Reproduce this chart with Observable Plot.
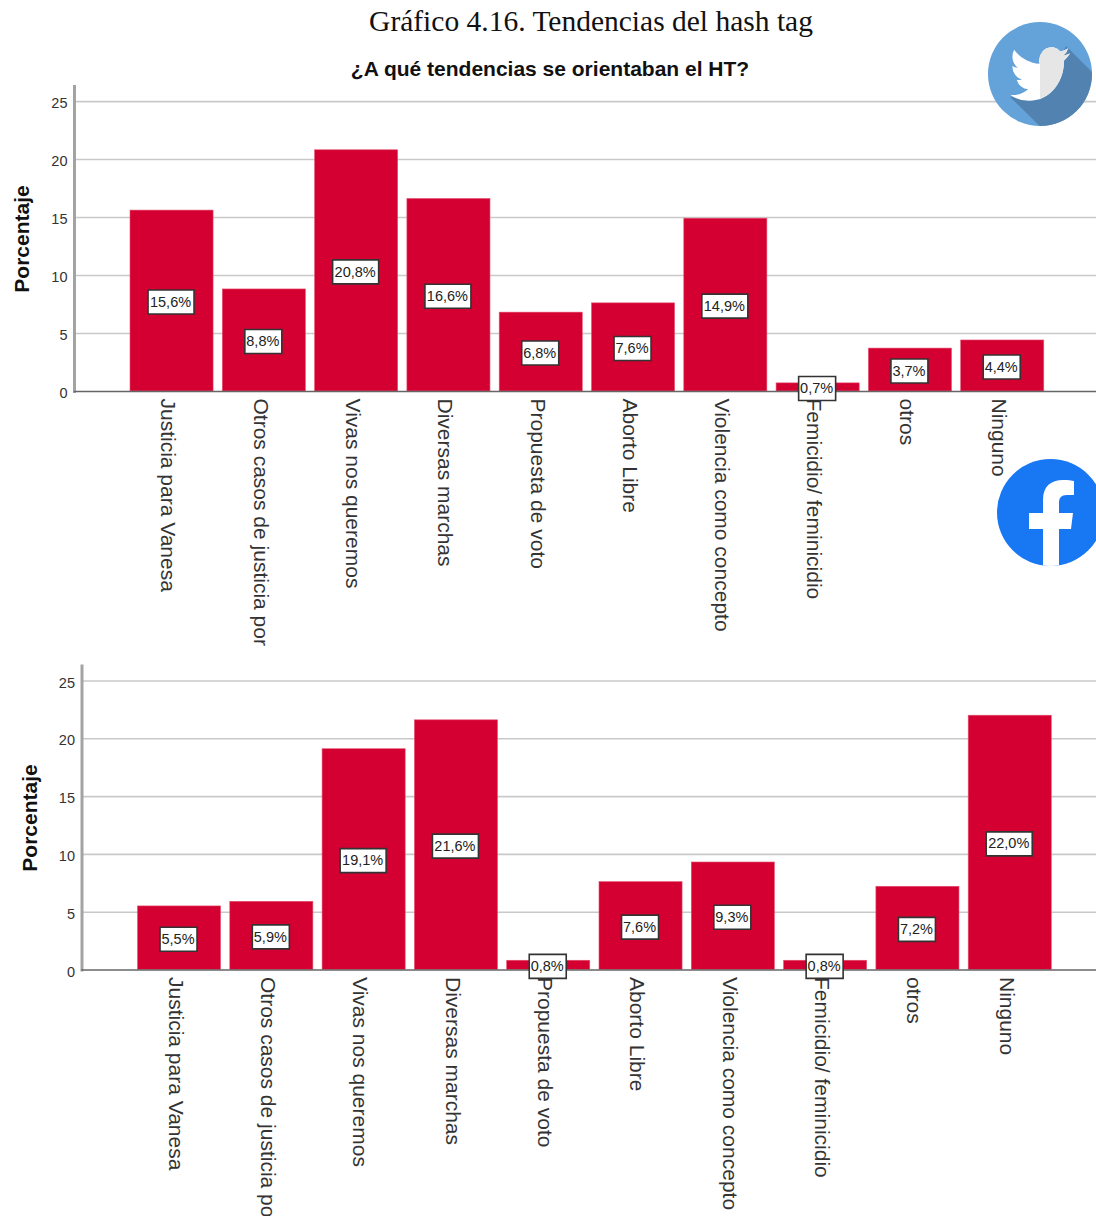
<!DOCTYPE html>
<html lang="es">
<head>
<meta charset="utf-8">
<title>Tendencias del hash tag</title>
<script src="https://cdn.jsdelivr.net/npm/d3@7"></script>
<script src="https://cdn.jsdelivr.net/npm/@observablehq/plot@0.6"></script>
<style>
  html, body { margin: 0; background: #fff; }
  #page { position: relative; width: 1096px; height: 1216px; overflow: hidden; }
  #page > svg, #page > div { position: absolute; }
  #heading { left: 291px; top: 5px; width: 600px; text-align: center; white-space: nowrap;
             font: 29.5px "Liberation Serif", serif; color: #111; }
  #question { left: 250px; top: 57px; width: 600px; text-align: center; white-space: nowrap;
              font: bold 21px "Liberation Sans", sans-serif; color: #111; }
</style>
</head>
<body>
<div id="page">
  <div id="heading">Gráfico 4.16. Tendencias del hash tag</div>
  <div id="question">¿A qué tendencias se orientaban el HT?</div>
</div>
<script>
// Categories shared by both panels
const categories = [
  "Justicia para Vanesa", "Otros casos de justicia por", "Vivas nos queremos",
  "Diversas marchas", "Propuesta de voto", "Aborto Libre",
  "Violencia como concepto", "Femicidio/ feminicidio", "otros", "Ninguno"
];
// Percentages per panel: Twitter above, Facebook below
const twitterValues = [15.6, 8.8, 20.8, 16.6, 6.8, 7.6, 14.9, 0.7, 3.7, 4.4];
const facebookValues = [5.5, 5.9, 19.1, 21.6, 0.8, 7.6, 9.3, 0.8, 7.2, 22.0];
const yTicks = [0, 5, 10, 15, 20, 25];

const sans = '"Liberation Sans", Arial, sans-serif';
const fmt = v => v.toFixed(1).replace(".", ",") + "%";

// Rectangular dot symbol for the value badges
const box = (w, h) => ({
  draw(ctx) { ctx.rect(-w / 2, -h / 2, w, h); }
});

function panel({values, top, height, axisX, axisTop, axisBottom, firstBar}) {
  const rows = categories.map((c, i) => ({c, v: values[i], label: fmt(values[i])}));
  const step = 92.3;
  const x0 = firstBar - step * 0.1;
  const badge = (test, w) => Plot.dot(rows.filter(test), {
    x: "c", y: d => d.v / 2, symbol: box(w, 24), r: 1, dx: -1, dy: 1,
    fill: "#fff", stroke: "#333", strokeWidth: 1.6
  });
  return Plot.plot({
    width: 1096, height,
    marginLeft: axisX, marginRight: 0,
    marginTop: axisTop - top, marginBottom: top + height - axisBottom,
    style: {fontFamily: sans, background: "transparent", overflow: "hidden"},
    x: {type: "band", domain: categories, range: [x0, x0 + step * 10.1], padding: 0.1, round: false, axis: null},
    y: {domain: [0, 26.3], range: [axisBottom - top, axisTop - top], axis: null},
    marks: [
      Plot.ruleY(yTicks.slice(1), {stroke: "#c9c9c9", strokeWidth: 1.6}),
      Plot.barY(rows, {x: "c", y: "v", fill: "#d50032", stroke: "#e4506f", strokeWidth: 0.6}),
      Plot.frame({anchor: "left", stroke: "#a3a3a3", strokeWidth: 3}),
      Plot.frame({anchor: "bottom", stroke: "#666", strokeWidth: 1.6}),
      badge(d => d.label.length > 4, 46),
      badge(d => d.label.length <= 4, 37),
      Plot.text(rows, {x: "c", y: d => d.v / 2, dx: -1.5, dy: 1, text: "label", fontSize: 14.5, fill: "#222"}),
      Plot.axisY({ticks: yTicks, tickSize: 0, tickPadding: 7, dy: 2, fontSize: 14.5, fill: "#333", label: null}),
      Plot.text(categories, {
        x: d => d, frameAnchor: "bottom", dy: 7, dx: -4,
        rotate: 90, textAnchor: "start", lineAnchor: "middle",
        fontSize: 21, fill: "#333"
      }),
      Plot.text(["Porcentaje"], {
        frameAnchor: "left", dx: -52, rotate: -90, textAnchor: "middle",
        fontWeight: "bold", fontSize: 21, fill: "#111"
      })
    ]
  });
}

const page = document.getElementById("page");

const twitter = panel({values: twitterValues, top: 0, height: 650, axisX: 74, axisTop: 86, axisBottom: 391, firstBar: 130});
const facebook = panel({values: facebookValues, top: 640, height: 576, axisX: 81.5, axisTop: 665.5, axisBottom: 969.5, firstBar: 137.5});
for (const [svg, top] of [[twitter, 0], [facebook, 640]]) {
  svg.style.left = "0px";
  svg.style.top = top + "px";
  svg.style.overflow = "hidden";
  page.append(svg);
}

// Network badges in the upper right corner of the panels
const badges = document.createElementNS("http://www.w3.org/2000/svg", "svg");
badges.setAttribute("width", 1096);
badges.setAttribute("height", 1216);
badges.style.left = "0px";
badges.style.top = "0px";
badges.innerHTML = `
  <defs>
    <clipPath id="tw"><circle cx="1040" cy="74" r="52"/></clipPath>
    <clipPath id="twRight"><rect x="1040" y="30" width="50" height="90"/></clipPath>
    <clipPath id="fb"><circle cx="1050.5" cy="512.5" r="53.5"/></clipPath>
    <path id="bird" transform="translate(1010 41) scale(2.5 2.75)"
      d="M23.953 4.57a10 10 0 01-2.825.775 4.958 4.958 0 002.163-2.723c-.951.555-2.005.959-3.127 1.184a4.92 4.92 0 00-8.384 4.482C7.69 8.095 4.067 6.13 1.64 3.162a4.822 4.822 0 00-.666 2.475c0 1.71.87 3.213 2.188 4.096a4.904 4.904 0 01-2.228-.616v.06a4.923 4.923 0 003.946 4.827 4.996 4.996 0 01-2.212.085 4.936 4.936 0 004.604 3.417 9.867 9.867 0 01-6.102 2.105c-.39 0-.779-.023-1.17-.067a13.995 13.995 0 007.557 2.209c9.053 0 13.998-7.496 13.998-13.985 0-.21 0-.42-.015-.63A9.935 9.935 0 0024 4.59z"/>
  </defs>
  <circle cx="1040" cy="74" r="52" fill="#64a2da"/>
  <polygon points="1066,46 1110,90 1110,140 1054,140 1010,97 1040,100" fill="#5283b0" clip-path="url(#tw)"/>
  <use href="#bird" fill="#fff"/>
  <g clip-path="url(#twRight)"><use href="#bird" fill="#e6e6e6"/></g>
  <circle cx="1050.5" cy="512.5" r="53.5" fill="#1877f2"/>
  <path clip-path="url(#fb)" fill="#fff"
    d="M1043 570V529H1029V513H1043V500C1043 486 1051 480 1063 480C1068 480 1072 480.5 1074 481V495H1067C1061 495 1059 498 1059 503V513H1073L1071 529H1059V570Z"/>`;
page.append(badges);
</script>
</body>
</html>
